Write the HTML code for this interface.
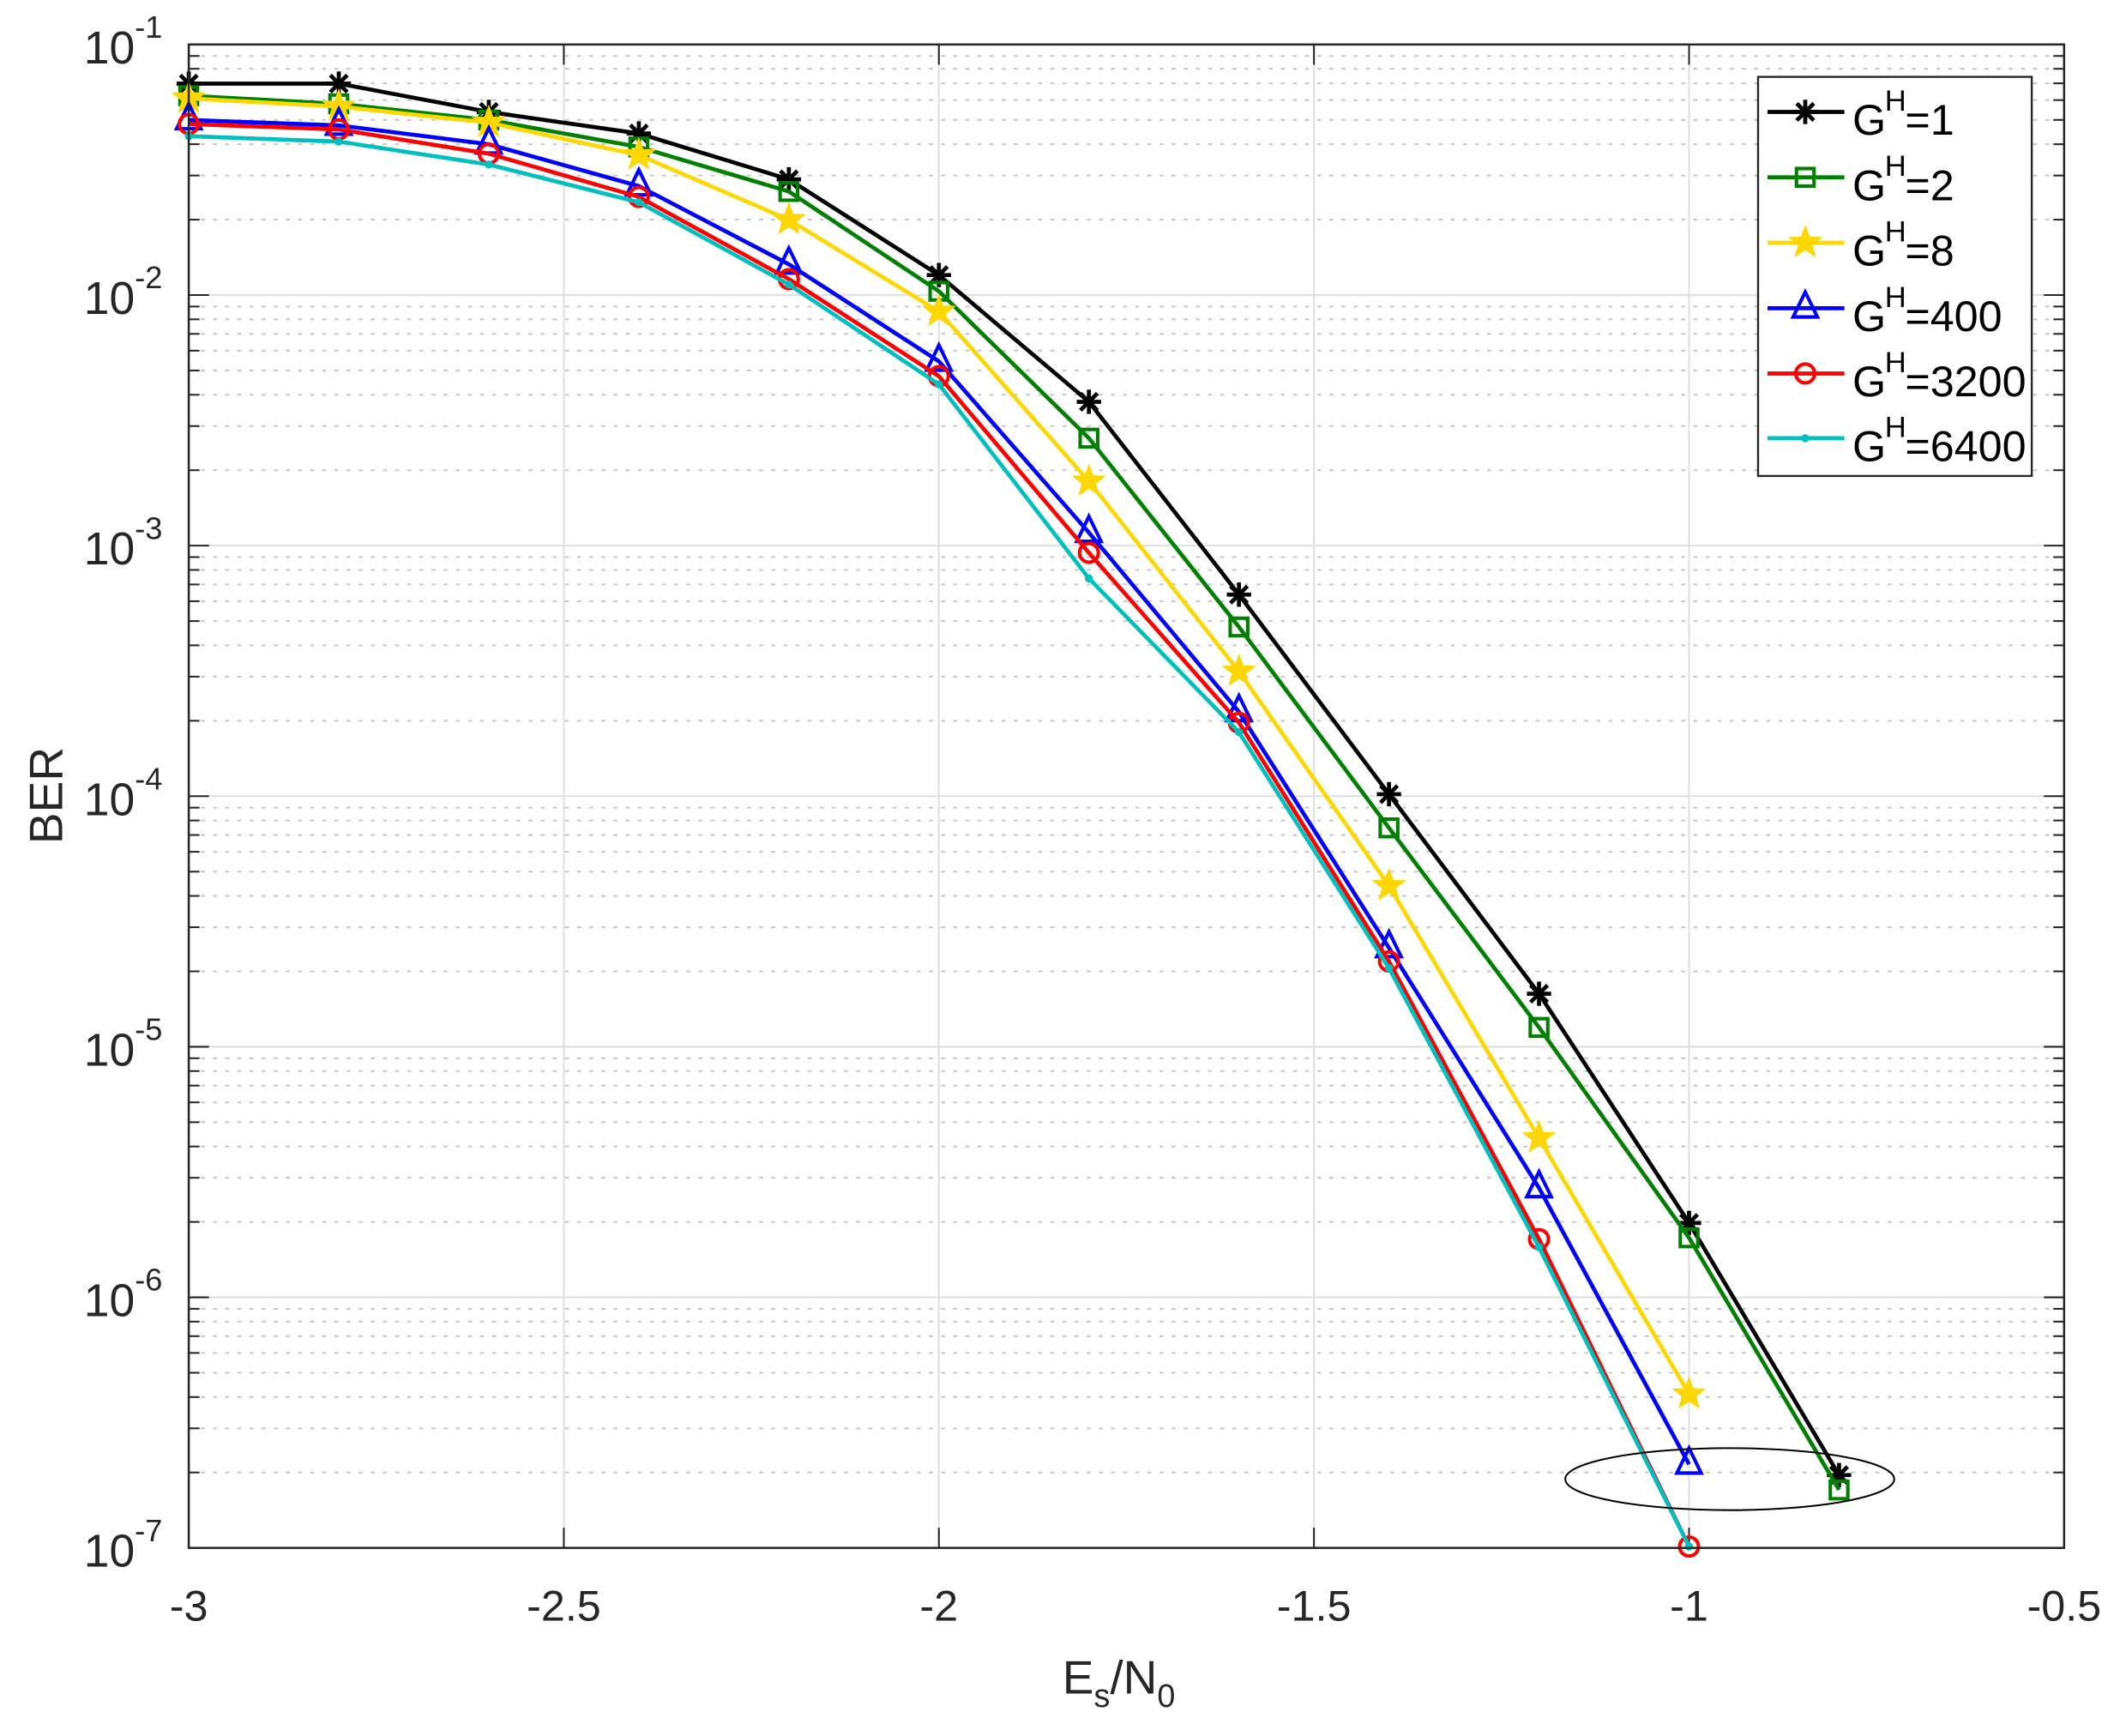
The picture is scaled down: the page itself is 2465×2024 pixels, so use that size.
<!DOCTYPE html>
<html><head><meta charset="utf-8">
<style>html,body{margin:0;padding:0;background:#fff}svg{display:block}text{font-family:"Liberation Sans",Arial,sans-serif;fill:#262626}</style>
</head><body>
<svg id="s" width="2465" height="2024" viewBox="0 0 1568 1287.5" preserveAspectRatio="none" xmlns="http://www.w3.org/2000/svg"></svg>
<script>
const L=140,R=1531,T=33,B=1148,D=(B-T)/6;
const X=v=>L+(v+3)/2.5*(R-L);
const Y=e=>T+(-1-e)*D;
let h='<rect x="0" y="0" width="1568" height="1287.5" fill="#fff"/>';
for(let d=-2;d>=-7;d--){for(let m=2;m<=9;m++){const y=Y(d+Math.log10(m));h+=`<line x1="${L}" x2="${R}" y1="${y}" y2="${y}" stroke="#c8c8c8" stroke-width="1.3" stroke-dasharray="3,6"/>`;
h+=`<line x1="${L}" x2="${L+8}" y1="${y}" y2="${y}" stroke="#262626" stroke-width="1.3"/><line x1="${R-8}" x2="${R}" y1="${y}" y2="${y}" stroke="#262626" stroke-width="1.3"/>`;}}
for(let d=-1;d>=-7;d--){const y=Y(d);h+=`<line x1="${L}" x2="${R}" y1="${y}" y2="${y}" stroke="#e0e0e0" stroke-width="1.3"/>`;
h+=`<line x1="${L}" x2="${L+15}" y1="${y}" y2="${y}" stroke="#262626" stroke-width="1.3"/><line x1="${R-15}" x2="${R}" y1="${y}" y2="${y}" stroke="#262626" stroke-width="1.3"/>`;
h+=`<text x="${L-40}" y="${y+14}" font-size="34" text-anchor="end">10</text><text x="${L-40}" y="${y-5}" font-size="23">${d}</text>`;}
const xt=[-3,-2.5,-2,-1.5,-1,-0.5];
xt.forEach(v=>{const x=X(v);h+=`<line x1="${x}" x2="${x}" y1="${T}" y2="${B}" stroke="#e0e0e0" stroke-width="1.3"/>`;
h+=`<line x1="${x}" x2="${x}" y1="${B}" y2="${B-15}" stroke="#262626" stroke-width="1.3"/><line x1="${x}" x2="${x}" y1="${T}" y2="${T+15}" stroke="#262626" stroke-width="1.3"/>`;
h+=`<text x="${x}" y="${B+54}" font-size="32" text-anchor="middle">${v}</text>`;});
const xs=[-3,-2.8,-2.6,-2.4,-2.2,-2,-1.8,-1.6,-1.4,-1.2,-1,-0.8];
const S=[
 ['#000','star',[62,62,83,99,133,204,298,441,589,737,907,1094]],
 ['#008000','sq',[71,77,89,109,142,216,325,465,614,762,918,1105]],
 ['#ffd700','pent',[73,79,91,115,163,231,357,498,657,844,1034]],
 ['#0000ff','tri',[89,93,107,138,196,268,395,528,703,881,1086]],
 ['#ff0000','circ',[92,96,114,146,207,279,410,536,713,919,1147]],
 ['#00bfbf','dot',[101,105,122,150,211,285,429,543,718,925,1147]]];
function mk(t,c,x,y){
 if(t==='star'){const r=9;return `<g stroke="${c}" stroke-width="3"><line x1="${x-r}" y1="${y}" x2="${x+r}" y2="${y}"/><line x1="${x}" y1="${y-r}" x2="${x}" y2="${y+r}"/><line x1="${x-r*.7}" y1="${y-r*.7}" x2="${x+r*.7}" y2="${y+r*.7}"/><line x1="${x-r*.7}" y1="${y+r*.7}" x2="${x+r*.7}" y2="${y-r*.7}"/></g>`;}
 if(t==='sq'){const r=6.5;return `<rect x="${x-r}" y="${y-r}" width="${2*r}" height="${2*r}" fill="none" stroke="${c}" stroke-width="2.6"/>`;}
 if(t==='pent'){let p=[];for(let i=0;i<10;i++){const a=-Math.PI/2+i*Math.PI/5,rr=i%2?5:12;p.push((x+rr*Math.cos(a)).toFixed(1)+','+(y+rr*Math.sin(a)).toFixed(1));}return `<polygon points="${p.join(' ')}" fill="${c}" stroke="${c}" stroke-width="1"/>`;}
 if(t==='tri'){return `<polygon points="${x},${y-12} ${x+9},${y+6.5} ${x-9},${y+6.5}" fill="none" stroke="${c}" stroke-width="2.6"/>`;}
 if(t==='circ'){return `<circle cx="${x}" cy="${y}" r="7" fill="none" stroke="${c}" stroke-width="2.6"/>`;}
 return `<circle cx="${x}" cy="${y}" r="3" fill="${c}"/>`;}
S.forEach(([c,t,ys])=>{const pts=ys.map((y,i)=>X(xs[i])+','+y).join(' ');
 h+=`<polyline points="${pts}" fill="none" stroke="${c}" stroke-width="3" stroke-linejoin="round"/>`;
 ys.forEach((y,i)=>h+=mk(t,c,X(xs[i]),y));});
h+=`<ellipse cx="1283" cy="1097" rx="122" ry="23" fill="none" stroke="#000" stroke-width="1.3"/>`;
h+=`<rect x="${L}" y="${T}" width="${R-L}" height="${B-T}" fill="none" stroke="#262626" stroke-width="1.6"/>`;
h+=`<rect x="1304" y="57" width="203" height="296" fill="#fff" stroke="#262626" stroke-width="1.5"/>`;
const labs=['1','2','8','400','3200','6400'],ly=[83,131.5,180,228.6,277,325];
S.forEach(([c,t],i)=>{const y=ly[i];h+=`<line x1="1311" x2="1368" y1="${y}" y2="${y}" stroke="${c}" stroke-width="3"/>`+mk(t,c,1339,y);
 h+=`<text x="1374" y="${y+17}" font-size="32" style="fill:#000">G</text><text x="1398" y="${y-1}" font-size="22" style="fill:#000">H</text><text x="1413" y="${y+17}" font-size="32" style="fill:#000">=${labs[i]}</text>`;});
h+=`<text x="788" y="1256" font-size="35">E<tspan font-size="24" dy="10">s</tspan><tspan dy="-10">/N</tspan><tspan font-size="24" dy="10">0</tspan></text>`;
h+=`<text transform="translate(46,590) rotate(-90)" font-size="35" text-anchor="middle">BER</text>`;
document.getElementById('s').innerHTML=h;
</script>
</body></html>
